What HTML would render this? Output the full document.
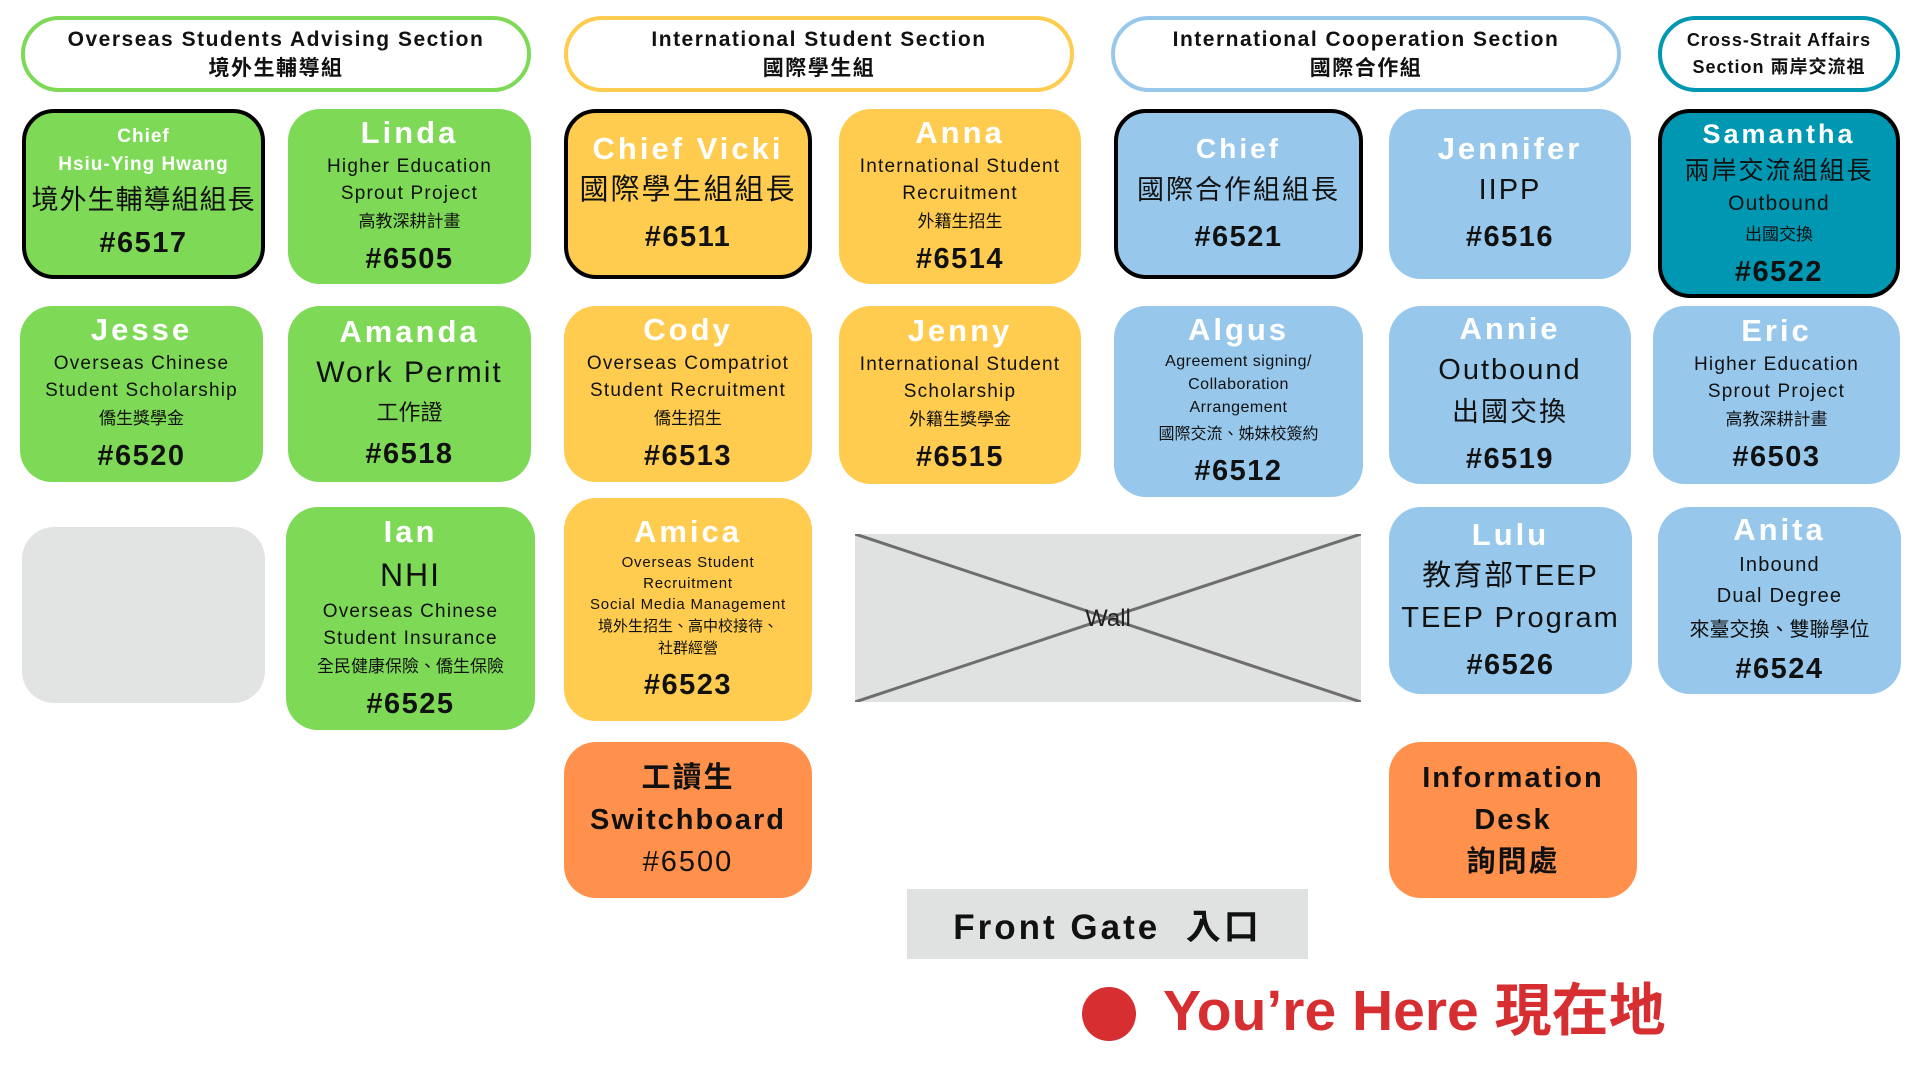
<!DOCTYPE html>
<html><head><meta charset="utf-8"><style>
*{margin:0;padding:0;box-sizing:border-box}
body{width:1920px;height:1080px;background:#fff;position:relative;overflow:hidden;font-family:"Liberation Sans","Noto Sans CJK TC",sans-serif;color:#111}
.b{position:absolute;border-radius:32px;display:flex;flex-direction:column;align-items:center;justify-content:center;text-align:center;white-space:nowrap}
.k{border:4px solid #000}
.g{background:#7ed957}.y{background:#ffcc4f}.bl{background:#97c8ec}.t{background:#0097b2}.o{background:#ff914d}
.h{position:absolute;top:16px;height:76px;border-radius:38px;border:4px solid;background:#fff;display:flex;flex-direction:column;align-items:center;justify-content:center;font-weight:bold;font-size:21px;letter-spacing:1.5px;line-height:29px}
.n{color:#fff;font-weight:bold;font-size:31px;letter-spacing:3px;line-height:40px}
.s{font-size:19px;letter-spacing:1.2px;line-height:27px;font-weight:500}
.c{font-size:17px;line-height:26px;font-family:"Noto Sans CJK TC",sans-serif}
.L{font-size:29px;line-height:42px;letter-spacing:2px}
.num{font-size:29px;letter-spacing:1.5px;line-height:44px;margin-top:4px;font-weight:bold}
</style></head><body>
<div class="h" style="left:21px;width:510px;border-color:#7ed957"><div>Overseas Students Advising Section</div><div>境外生輔導組</div></div>
<div class="h" style="left:564px;width:510px;border-color:#ffcc4f"><div>International Student Section</div><div>國際學生組</div></div>
<div class="h" style="left:1111px;width:510px;border-color:#97c8ec"><div>International Cooperation Section</div><div>國際合作組</div></div>
<div class="h" style="left:1658px;width:242px;border-color:#0097b2;font-size:18px;line-height:27px;letter-spacing:1px"><div>Cross-Strait Affairs</div><div>Section 兩岸交流祖</div></div>

<div class="b g k" style="left:22px;top:109px;width:243px;height:170px"><div class="n" style="font-size:19px;line-height:28px;letter-spacing:1px">Chief</div><div class="n" style="font-size:19px;line-height:28px;letter-spacing:1px">Hsiu-Ying Hwang</div><div class="L" style="font-size:27px;letter-spacing:1px">境外生輔導組組長</div><div class="num" style="margin-top:0">#6517</div></div>
<div class="b g" style="left:288px;top:109px;width:243px;height:175px"><div class="n">Linda</div><div class="s">Higher Education</div><div class="s">Sprout Project</div><div class="c">高教深耕計畫</div><div class="num">#6505</div></div>
<div class="b y k" style="left:564px;top:109px;width:248px;height:170px"><div class="n">Chief Vicki</div><div class="L">國際學生組組長</div><div class="num">#6511</div></div>
<div class="b y" style="left:839px;top:109px;width:242px;height:175px"><div class="n">Anna</div><div class="s">International Student</div><div class="s">Recruitment</div><div class="c">外籍生招生</div><div class="num">#6514</div></div>
<div class="b bl k" style="left:1114px;top:109px;width:249px;height:170px"><div class="n" style="font-size:28px">Chief</div><div class="L" style="font-size:27px">國際合作組組長</div><div class="num">#6521</div></div>
<div class="b bl" style="left:1389px;top:109px;width:242px;height:170px"><div class="n">Jennifer</div><div class="L">IIPP</div><div class="num">#6516</div></div>
<div class="b t k" style="left:1658px;top:109px;width:242px;height:189px"><div class="n" style="font-size:27px">Samantha</div><div class="L" style="font-size:25px;line-height:34px">兩岸交流組組長</div><div class="s" style="font-size:21px;line-height:32px">Outbound</div><div class="c">出國交換</div><div class="num">#6522</div></div>

<div class="b g" style="left:20px;top:306px;width:243px;height:176px"><div class="n">Jesse</div><div class="s">Overseas Chinese</div><div class="s">Student Scholarship</div><div class="c">僑生獎學金</div><div class="num">#6520</div></div>
<div class="b g" style="left:288px;top:306px;width:243px;height:176px"><div class="n">Amanda</div><div class="L" style="font-size:30px">Work Permit</div><div class="c" style="font-size:22px;line-height:34px">工作證</div><div class="num">#6518</div></div>
<div class="b y" style="left:564px;top:306px;width:248px;height:176px"><div class="n">Cody</div><div class="s">Overseas Compatriot</div><div class="s">Student Recruitment</div><div class="c">僑生招生</div><div class="num">#6513</div></div>
<div class="b y" style="left:839px;top:306px;width:242px;height:178px"><div class="n">Jenny</div><div class="s">International Student</div><div class="s">Scholarship</div><div class="c">外籍生獎學金</div><div class="num">#6515</div></div>
<div class="b bl" style="left:1114px;top:306px;width:249px;height:191px"><div class="n">Algus</div><div class="s" style="font-size:16px;line-height:23px;letter-spacing:.5px">Agreement signing/</div><div class="s" style="font-size:16px;line-height:23px;letter-spacing:.5px">Collaboration</div><div class="s" style="font-size:16px;line-height:23px;letter-spacing:.5px">Arrangement</div><div class="c" style="font-size:16px">國際交流、姊妹校簽約</div><div class="num">#6512</div></div>
<div class="b bl" style="left:1389px;top:306px;width:242px;height:178px"><div class="n">Annie</div><div class="L">Outbound</div><div class="L" style="font-size:27px">出國交換</div><div class="num">#6519</div></div>
<div class="b bl" style="left:1653px;top:306px;width:247px;height:178px"><div class="n">Eric</div><div class="s">Higher Education</div><div class="s">Sprout Project</div><div class="c">高教深耕計畫</div><div class="num">#6503</div></div>

<div class="b" style="left:22px;top:527px;width:243px;height:176px;background:#e2e3e3"></div>
<div class="b g" style="left:286px;top:507px;width:249px;height:223px"><div class="n">Ian</div><div class="L" style="font-size:32px;line-height:46px">NHI</div><div class="s">Overseas Chinese</div><div class="s">Student Insurance</div><div class="c">全民健康保險、僑生保險</div><div class="num">#6525</div></div>
<div class="b y" style="left:564px;top:498px;width:248px;height:223px"><div class="n">Amica</div><div class="s" style="font-size:15px;line-height:21px;letter-spacing:.8px">Overseas Student</div><div class="s" style="font-size:15px;line-height:21px;letter-spacing:.8px">Recruitment</div><div class="s" style="font-size:15px;line-height:21px;letter-spacing:.8px">Social Media Management</div><div class="c" style="font-size:15px;line-height:22px">境外生招生、高中校接待、</div><div class="c" style="font-size:15px;line-height:22px">社群經營</div><div class="num">#6523</div></div>
<svg style="position:absolute;left:855px;top:534px" width="506" height="168"><rect x="0" y="0" width="506" height="168" fill="#e0e1e1"/><line x1="0" y1="0" x2="506" y2="168" stroke="#6e6e6e" stroke-width="3"/><line x1="0" y1="168" x2="506" y2="0" stroke="#6e6e6e" stroke-width="3"/><text x="253" y="92" text-anchor="middle" font-family="Liberation Sans" font-size="24" fill="#222">Wall</text></svg>
<div class="b bl" style="left:1389px;top:507px;width:243px;height:187px"><div class="n">Lulu</div><div class="L">教育部TEEP</div><div class="L">TEEP Program</div><div class="num">#6526</div></div>
<div class="b bl" style="left:1658px;top:507px;width:243px;height:187px"><div class="n">Anita</div><div class="s" style="font-size:20px;line-height:31px">Inbound</div><div class="s" style="font-size:20px;line-height:31px">Dual Degree</div><div class="c" style="font-size:20px;line-height:31px">來臺交換、雙聯學位</div><div class="num">#6524</div></div>

<div class="b o" style="left:564px;top:742px;width:248px;height:156px"><div class="L" style="font-weight:bold">工讀生</div><div class="L" style="font-weight:bold">Switchboard</div><div class="L">#6500</div></div>
<div class="b o" style="left:1389px;top:742px;width:248px;height:156px"><div class="L" style="font-weight:bold">Information</div><div class="L" style="font-weight:bold">Desk</div><div class="L" style="font-weight:bold">詢問處</div></div>

<div style="position:absolute;left:907px;top:889px;width:401px;height:70px;background:#e0e1e1;display:flex;align-items:center;justify-content:center;font-weight:bold;font-size:35px;letter-spacing:3px">Front Gate&nbsp; 入口</div>
<div style="position:absolute;left:1082px;top:987px;width:54px;height:54px;border-radius:50%;background:#d62e31"></div>
<div style="position:absolute;left:1163px;top:978px;font-weight:bold;font-size:57px;line-height:66px;color:#d62e31;white-space:nowrap">You’re Here 現在地</div>
</body></html>
